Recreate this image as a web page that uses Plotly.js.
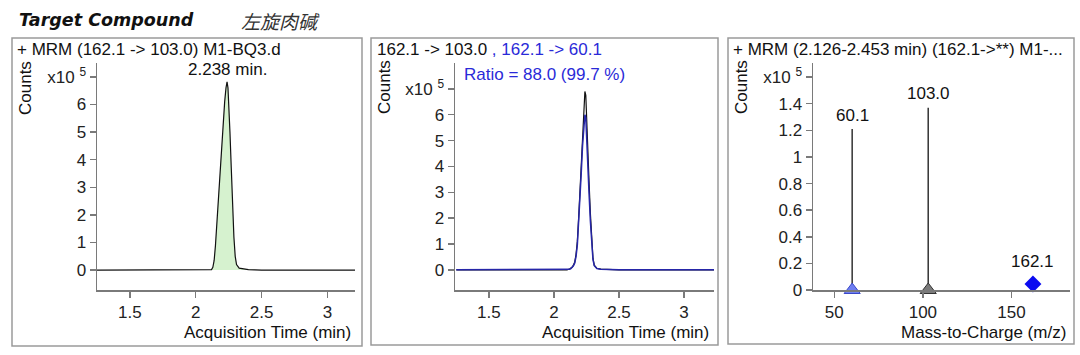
<!DOCTYPE html>
<html>
<head>
<meta charset="utf-8">
<script src="https://cdn.plot.ly/plotly-3.0.1.min.js"></script>
<style>html,body{margin:0;padding:0;background:#fff;}#chart{width:1080px;height:355px;}</style>
</head>
<body>
<div id="chart"></div>
<script>
// ---- data ----
const timeMin = [1.25, 2.00, 2.10, 2.12, 2.13, 2.14, 2.15, 2.16, 2.17, 2.18, 2.19, 2.20, 2.21, 2.22, 2.23, 2.238, 2.245, 2.25, 2.26, 2.27, 2.28, 2.29, 2.30, 2.31, 2.33, 2.36, 2.40, 2.45, 2.50, 3.25];
// counts x10^5, quantifier 162.1 -> 103.0 (panel 1)
const tic103 = [0, 0, 0, 0.02, 0.1, 0.35, 0.9, 1.7, 2.5, 3.3, 4.1, 4.8, 5.5, 6.1, 6.6, 6.82, 6.6, 6.2, 5.0, 3.7, 2.3, 1.2, 0.5, 0.2, 0.07, 0.04, 0.02, 0.01, 0, 0];
// overlay panel: 162.1 -> 103.0 (black) and 162.1 -> 60.1 (blue)
const ov103 = [0, 0, 0, 0.03, 0.06, 0.1, 0.18, 0.3, 0.6, 1.1, 2.0, 3.1, 4.3, 5.5, 6.5, 6.9, 6.75, 6.2, 4.8, 3.4, 2.2, 1.1, 0.45, 0.18, 0.06, 0.03, 0.015, 0.008, 0, 0];
const ov60 = [0, 0, 0, 0.02, 0.05, 0.09, 0.16, 0.26, 0.52, 0.96, 1.75, 2.7, 3.75, 4.8, 5.65, 6.0, 5.88, 5.4, 4.15, 2.95, 1.9, 0.95, 0.4, 0.16, 0.05, 0.025, 0.012, 0.006, 0, 0];
const peakRT = 2.238;
const integStart = 2.126, integEnd = 2.453;
// spectrum (x10^5)
const productMz = [60.1, 103.0];
const productInt = [1.21, 1.37];
const precursorMz = [162.1];
const precursorInt = [0.045];
// tick labels
const yTicks1 = [0, 1, 2, 3, 4, 5, 6, 7];
const yText1 = ['0', '1', '2', '3', '4', '5', '6', 'x10 <sup>5</sup>'];
const yTicks3 = [0, 0.2, 0.4, 0.6, 0.8, 1, 1.2, 1.4, 1.6];
const yText3 = ['0', '0.2', '0.4', '0.6', '0.8', '1', '1.2', '1.4', 'x10 <sup>5</sup>'];
const xTicksT = [1.5, 2, 2.5, 3];
const xTicksMz = [50, 100, 150];

// ---- helpers ----
const W = 1080, H = 355;
const px = v => v / W;
const py = v => 1 - v / H;
const FONT = 'Liberation Sans, Arial, sans-serif';
const AX = '#7a7a7a';

function xax(d0, d1, range, tickvals, anchor) {
  return {domain: [px(d0), px(d1)], range: range, anchor: anchor, showline: true, linecolor: AX, linewidth: 1.5,
    ticks: 'outside', ticklen: 6, tickcolor: AX, tickwidth: 1.5, tickvals: tickvals, showgrid: false, zeroline: false,
    tickfont: {family: FONT, size: 17, color: '#222'}, fixedrange: true};
}
function yax(range, tickvals, ticktext, anchor) {
  return {domain: [py(290), py(63)], range: range, anchor: anchor, showline: true, linecolor: AX, linewidth: 1.5,
    ticks: 'outside', ticklen: 6, tickcolor: AX, tickwidth: 1.5, tickvals: tickvals, ticktext: ticktext,
    showgrid: false, zeroline: false, tickfont: {family: FONT, size: 17, color: '#222'}, fixedrange: true};
}

const fillT = [], fillY = [];
timeMin.forEach((t, i) => { if (t >= integStart - 0.01 && t <= integEnd) { fillT.push(t); fillY.push(tic103[i]); } });

const stickX = [], stickY = [];
productMz.forEach((m, i) => { stickX.push(m, m, null); stickY.push(0, productInt[i], null); });

const traces = [
  {x: fillT, y: fillY, xaxis: 'x', yaxis: 'y', type: 'scatter', mode: 'lines', fill: 'tozeroy',
   fillcolor: '#d6f2cf', line: {width: 0, color: 'rgba(0,0,0,0)'}, hoverinfo: 'skip'},
  {x: timeMin, y: tic103, xaxis: 'x', yaxis: 'y', type: 'scatter', mode: 'lines', line: {color: '#111', width: 1.2}},
  {x: timeMin, y: ov103, xaxis: 'x2', yaxis: 'y2', type: 'scatter', mode: 'lines', line: {color: '#111', width: 1.2}},
  {x: timeMin, y: ov60, xaxis: 'x2', yaxis: 'y2', type: 'scatter', mode: 'lines', line: {color: '#2626a8', width: 1.5}},
  {x: stickX, y: stickY, xaxis: 'x3', yaxis: 'y3', type: 'scatter', mode: 'lines', line: {color: '#333', width: 1.5}},
  {x: [productMz[0]], y: [0], xaxis: 'x3', yaxis: 'y3', type: 'scatter', mode: 'markers', cliponaxis: false,
   marker: {symbol: 'triangle-up', size: 14, color: '#6f7ff2', line: {color: '#3a48c8', width: 1}}},
  {x: [productMz[1]], y: [0], xaxis: 'x3', yaxis: 'y3', type: 'scatter', mode: 'markers', cliponaxis: false,
   marker: {symbol: 'triangle-up', size: 14, color: '#7c7c7c', line: {color: '#333', width: 1}}},
  {x: precursorMz, y: precursorInt, xaxis: 'x3', yaxis: 'y3', type: 'scatter', mode: 'markers', cliponaxis: false,
   marker: {symbol: 'diamond', size: 13, color: '#0a0af0', line: {width: 0}}}
];

const ann = (o) => Object.assign({showarrow: false, font: {family: FONT, size: 17, color: '#111'}}, o);

const annotations = [
  ann({text: 'Target Compound', xref: 'paper', yref: 'paper', x: px(17), y: py(20), xanchor: 'left', yanchor: 'middle',
       font: {family: 'DejaVu Sans, Verdana, sans-serif', size: 17.5, color: '#111', weight: 'bold', style: 'italic'}}),
  ann({text: '左旋肉碱', xref: 'paper', yref: 'paper', x: px(239), y: py(20), xanchor: 'left', yanchor: 'middle',
       font: {family: 'Noto Sans CJK SC, sans-serif', size: 19, color: '#333', style: 'italic'}}),
  ann({text: '+ MRM (162.1 -> 103.0) M1-BQ3.d', xref: 'paper', yref: 'paper', x: px(15), y: py(49), xanchor: 'left', yanchor: 'middle'}),
  ann({text: '162.1 -> 103.0<span style="color:#2a2ad8"> , 162.1 -> 60.1</span>', xref: 'paper', yref: 'paper', x: px(375), y: py(49), xanchor: 'left', yanchor: 'middle'}),
  ann({text: '+ MRM (2.126-2.453 min) (162.1->**) M1-...', xref: 'paper', yref: 'paper', x: px(731), y: py(49), xanchor: 'left', yanchor: 'middle'}),
  ann({text: 'Counts', xref: 'paper', yref: 'paper', x: px(25), y: py(88), textangle: -90, xanchor: 'center', yanchor: 'middle'}),
  ann({text: 'Counts', xref: 'paper', yref: 'paper', x: px(384), y: py(87), textangle: -90, xanchor: 'center', yanchor: 'middle'}),
  ann({text: 'Counts', xref: 'paper', yref: 'paper', x: px(741), y: py(87), textangle: -90, xanchor: 'center', yanchor: 'middle'}),
  ann({text: 'Acquisition Time (min)', xref: 'paper', yref: 'paper', x: px(353), y: py(332), xanchor: 'right', yanchor: 'middle'}),
  ann({text: 'Acquisition Time (min)', xref: 'paper', yref: 'paper', x: px(711), y: py(332), xanchor: 'right', yanchor: 'middle'}),
  ann({text: 'Mass-to-Charge (m/z)', xref: 'paper', yref: 'paper', x: px(1068), y: py(332), xanchor: 'right', yanchor: 'middle'}),
  ann({text: peakRT.toFixed(3) + ' min.', xref: 'x', yref: 'y', x: peakRT, y: Math.max(...tic103), xanchor: 'center', yanchor: 'bottom', yshift: 1}),
  ann({text: 'Ratio = 88.0 (99.7 %)', xref: 'paper', yref: 'paper', x: px(462), y: py(75), xanchor: 'left', yanchor: 'middle',
       font: {family: FONT, size: 17, color: '#2a2ad8'}}),
  ann({text: productMz[0].toFixed(1), xref: 'x3', yref: 'y3', x: productMz[0], y: productInt[0], xanchor: 'center', yanchor: 'bottom', yshift: 2}),
  ann({text: productMz[1].toFixed(1), xref: 'x3', yref: 'y3', x: productMz[1], y: productInt[1], xanchor: 'center', yanchor: 'bottom', yshift: 3}),
  ann({text: precursorMz[0].toFixed(1), xref: 'x3', yref: 'y3', x: precursorMz[0], y: precursorInt[0], xanchor: 'center', yanchor: 'bottom', yshift: 11})
];

const box = (x0, y0, x1, y1) => ({type: 'rect', xref: 'paper', yref: 'paper', x0: px(x0), x1: px(x1), y0: py(y1), y1: py(y0),
  line: {color: '#9a9a9a', width: 1.5}, fillcolor: 'rgba(0,0,0,0)', layer: 'below'});

const layout = {
  width: W, height: H, margin: {l: 0, r: 0, t: 0, b: 0}, paper_bgcolor: '#fff', plot_bgcolor: 'rgba(0,0,0,0)',
  showlegend: false, hovermode: false,
  xaxis: xax(97, 355, [1.25, 3.21], xTicksT, 'y'),
  yaxis: yax([-0.72, 7.5], yTicks1, yText1, 'x'),
  xaxis2: xax(455, 714, [1.24, 3.23], xTicksT, 'y2'),
  yaxis2: yax([-0.78, 8.0], yTicks1, yText1, 'x2'),
  xaxis3: xax(813, 1070, [38, 183], xTicksMz, 'y3'),
  yaxis3: yax([0, 1.706], yTicks3, yText3, 'x3'),
  annotations: annotations,
  shapes: [box(12, 38, 362, 346), box(371, 38, 718, 345), box(728, 38, 1074, 344)]
};

Plotly.newPlot('chart', traces, layout, {staticPlot: true, displayModeBar: false});
</script>
</body>
</html>
